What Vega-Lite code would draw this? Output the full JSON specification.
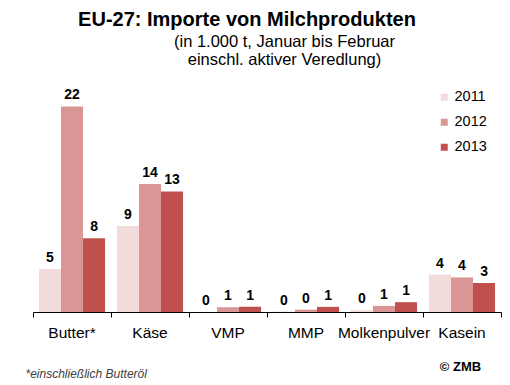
{
  "$schema": "https://vega.github.io/schema/vega-lite/v6.json",
  "width": 468,
  "height": 243,
  "autosize": {"type": "none"},
  "padding": {"left": 33, "top": 69, "right": 9, "bottom": 73},
  "background": "white",
  "title": {
    "text": "EU-27: Importe von Milchprodukten",
    "anchor": "middle",
    "frame": "group",
    "dx": -20,
    "dy": 1,
    "font": "Liberation Sans",
    "fontSize": 20,
    "fontWeight": "bold",
    "color": "#000000"
  },
  "data": {
    "values": [
      {"product": "Butter*", "year": "2011", "value": 4.6},
      {"product": "Butter*", "year": "2012", "value": 22.0},
      {"product": "Butter*", "year": "2013", "value": 7.9},
      {"product": "Käse", "year": "2011", "value": 9.2},
      {"product": "Käse", "year": "2012", "value": 13.7},
      {"product": "Käse", "year": "2013", "value": 12.9},
      {"product": "VMP", "year": "2011", "value": 0},
      {"product": "VMP", "year": "2012", "value": 0.52},
      {"product": "VMP", "year": "2013", "value": 0.55},
      {"product": "MMP", "year": "2011", "value": 0.05},
      {"product": "MMP", "year": "2012", "value": 0.25},
      {"product": "MMP", "year": "2013", "value": 0.55},
      {"product": "Molkenpulver", "year": "2011", "value": 0.2},
      {"product": "Molkenpulver", "year": "2012", "value": 0.65},
      {"product": "Molkenpulver", "year": "2013", "value": 1.05},
      {"product": "Kasein", "year": "2011", "value": 4.0},
      {"product": "Kasein", "year": "2012", "value": 3.7},
      {"product": "Kasein", "year": "2013", "value": 3.1}
    ]
  },
  "encoding": {
    "x": {
      "field": "product",
      "type": "nominal",
      "sort": ["Butter*", "Käse", "VMP", "MMP", "Molkenpulver", "Kasein"],
      "scale": {"paddingInner": 0, "paddingOuter": 0},
      "axis": {
        "title": "*einschließlich Butteröl",
        "titleX": -8,
        "titleY": 65,
        "titleAlign": "left",
        "titleAnchor": "start",
        "titleBaseline": "alphabetic",
        "titleFont": "Liberation Sans",
        "titleFontSize": 12,
        "titleFontStyle": "italic",
        "titleFontWeight": "normal",
        "titleColor": "#404040",
        "labelAngle": 0,
        "labelFont": "Liberation Sans",
        "labelFontSize": 15.5,
        "labelColor": "#000000",
        "labelPadding": 8,
        "labelBaseline": "top",
        "tickSize": 5,
        "tickColor": "#000000",
        "domainColor": "#000000",
        "bandPosition": 1,
        "tickExtra": true
      }
    },
    "xOffset": {
      "field": "year",
      "type": "nominal",
      "scale": {"paddingInner": 0, "paddingOuter": 0.27}
    }
  },
  "layer": [
    {
      "mark": {"type": "bar"},
      "encoding": {
        "y": {
          "field": "value",
          "type": "quantitative",
          "scale": {"domain": [0, 25]},
          "axis": {
            "title": ["(in 1.000 t, Januar bis Februar", "einschl. aktiver Veredlung)"],
            "labels": false,
            "ticks": false,
            "domain": false,
            "grid": false,
            "titleAngle": 0,
            "titleX": 251,
            "titleY": -23,
            "titleAlign": "center",
            "titleBaseline": "alphabetic",
            "titleFont": "Liberation Sans",
            "titleFontSize": 16.5,
            "titleFontWeight": "normal",
            "titleColor": "#000000",
            "titleLineHeight": 18
          }
        },
        "color": {
          "field": "year",
          "type": "nominal",
          "scale": {"domain": ["2011", "2012", "2013"], "range": ["#F2DCDB", "#D99694", "#C0504D"]},
          "legend": {
            "orient": "none",
            "legendX": 404,
            "legendY": 21,
            "title": null,
            "symbolType": "square",
            "symbolSize": 49,
            "symbolStrokeWidth": 0,
            "labelFont": "Liberation Sans",
            "labelFontSize": 14.5,
            "labelColor": "#000000",
            "rowPadding": 10,
            "labelOffset": 3
          }
        }
      }
    },
    {
      "mark": {"type": "text", "dy": -7, "baseline": "alphabetic", "font": "Liberation Sans", "fontSize": 14, "fontWeight": "bold", "color": "#000000"},
      "encoding": {
        "y": {
          "field": "value",
          "type": "quantitative",
          "axis": {
            "orient": "right",
            "title": "© ZMB",
            "labels": false,
            "ticks": false,
            "domain": false,
            "grid": false,
            "titleAngle": 0,
            "titleX": -41,
            "titleY": 301,
            "titleAlign": "center",
            "titleBaseline": "alphabetic",
            "titleFont": "Liberation Sans",
            "titleFontSize": 13,
            "titleFontWeight": "bold",
            "titleColor": "#000000"
          }
        },
        "text": {"field": "value", "type": "quantitative", "format": ".0f"}
      }
    }
  ],
  "resolve": {"axis": {"y": "independent"}},
  "config": {"view": {"stroke": null}, "font": "Liberation Sans"}
}
